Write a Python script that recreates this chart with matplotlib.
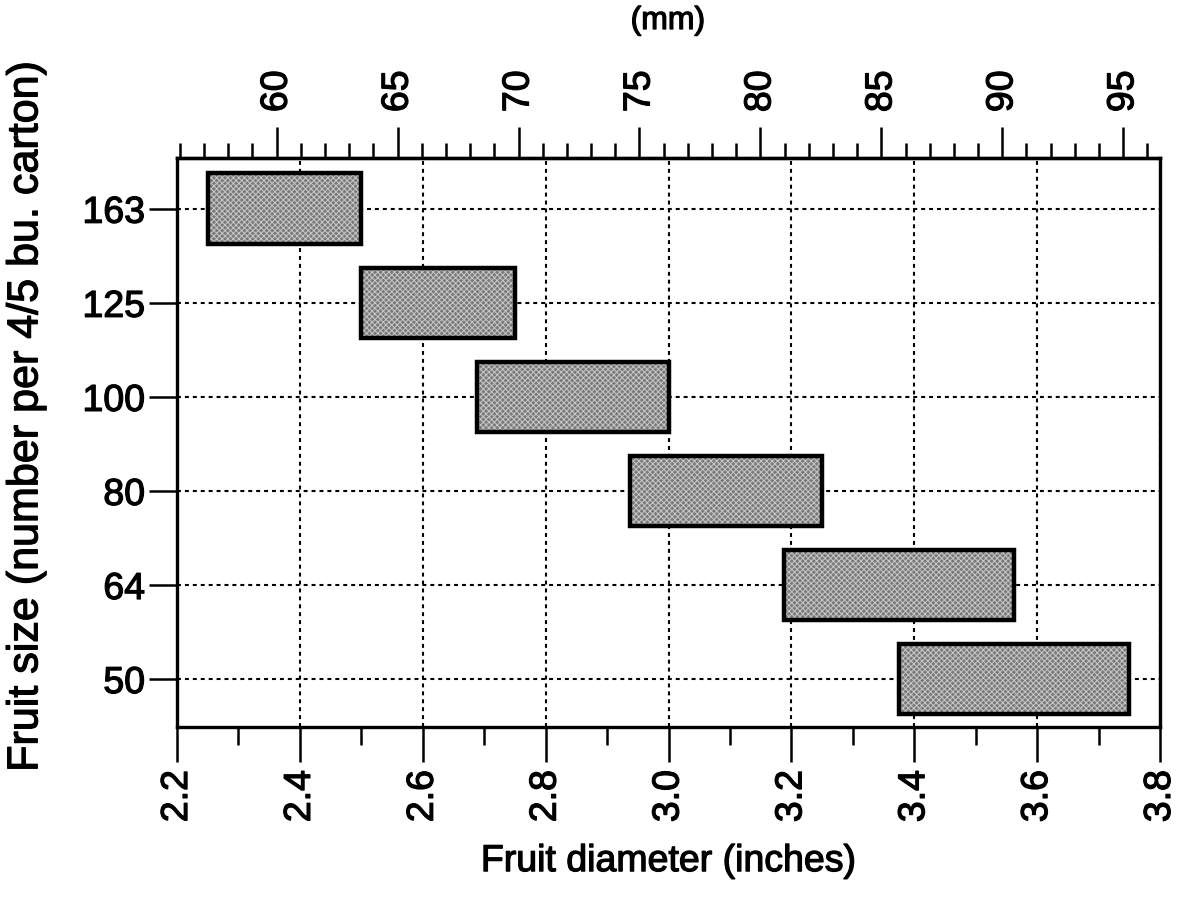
import matplotlib
matplotlib.use("Agg")
import matplotlib.pyplot as plt
import matplotlib.patheffects as pe
from matplotlib.ticker import MultipleLocator, FixedLocator

plt.rcParams["font.family"] = ["Liberation Sans", "DejaVu Sans"]
plt.rcParams["hatch.linewidth"] = 0.7

# Fruit size classes (count per 4/5 bushel carton) and diameter ranges (inches)
sizes = ["50", "64", "80", "100", "125", "163"]
diam_min = [3.375, 3.1875, 2.9375, 2.6875, 2.5, 2.25]
diam_max = [3.75, 3.5625, 3.25, 3.0, 2.75, 2.5]

x_ticks = [2.2, 2.4, 2.6, 2.8, 3.0, 3.2, 3.4, 3.6, 3.8]
mm_ticks = [60, 65, 70, 75, 80, 85, 90, 95]

heavy = [pe.withStroke(linewidth=0.9, foreground="black")]

fig = plt.figure(figsize=(11.81, 8.97), dpi=100)
ax = fig.add_axes([0.1499, 0.1895, 0.8323, 0.6344])

ypos = list(range(len(sizes)))
widths = [b - a for a, b in zip(diam_min, diam_max)]

# textured grey boxes: base fill, light hatch texture, then black outline
ax.barh(ypos, widths, left=diam_min, height=0.75, color="#7a7a7a",
        edgecolor="none", zorder=3)
ax.barh(ypos, widths, left=diam_min, height=0.75, color="none",
        edgecolor="#c8c8c8", hatch="xxxxxx", linewidth=0, zorder=3)
ax.barh(ypos, widths, left=diam_min, height=0.75, color="none",
        edgecolor="black", linewidth=3.2, zorder=4)

ax.set_xlim(2.2, 3.8)
ax.set_ylim(-0.51, 5.54)

ax.xaxis.set_major_locator(FixedLocator(x_ticks))
ax.set_xticklabels([f"{v:.1f}" for v in x_ticks], rotation=90)
ax.xaxis.set_minor_locator(MultipleLocator(0.1))
ax.set_yticks(ypos)
ax.set_yticklabels(sizes)

ax.tick_params(axis="x", which="major", direction="out", length=25, width=1.8,
               labelsize=27, pad=6)
ax.tick_params(axis="x", which="minor", direction="out", length=13, width=1.8)
ax.tick_params(axis="y", which="major", direction="out", length=20, width=1.8,
               labelsize=27, pad=3)

for sp in ax.spines.values():
    sp.set_linewidth(2.4)

ax.grid(True, which="major", color="black", linestyle=(0, (1.9, 1.9)),
        linewidth=1.5, zorder=1)

ax.set_xlabel("Fruit diameter (inches)", fontsize=27)
ax.xaxis.set_label_coords(0.5, -0.204)
ax.set_ylabel("Fruit size (number per 4/5 bu. carton)", fontsize=31)
ax.yaxis.set_label_coords(-0.133, 0.545)

# secondary scale in millimetres
sec = ax.secondary_xaxis("top", functions=(lambda x: x * 25.4, lambda m: m / 25.4))
sec.xaxis.set_major_locator(FixedLocator(mm_ticks))
sec.set_xticklabels([str(v) for v in mm_ticks], rotation=90)
sec.xaxis.set_minor_locator(MultipleLocator(1))
sec.tick_params(which="major", direction="out", length=22, width=1.8,
                labelsize=27, pad=11)
sec.tick_params(which="minor", direction="out", length=11, width=1.8)
sec.spines["top"].set_linewidth(2.4)
mm_label = fig.text(0.5657, 1 - 21 / 897, "(mm)", fontsize=23,
                    ha="center", va="center")

# slightly heavier lettering throughout
texts = (ax.get_xticklabels() + ax.get_yticklabels() + sec.get_xticklabels()
         + [ax.xaxis.label, ax.yaxis.label, mm_label])
for t in texts:
    t.set_path_effects(heavy)

fig.savefig("out.png", dpi=100)
